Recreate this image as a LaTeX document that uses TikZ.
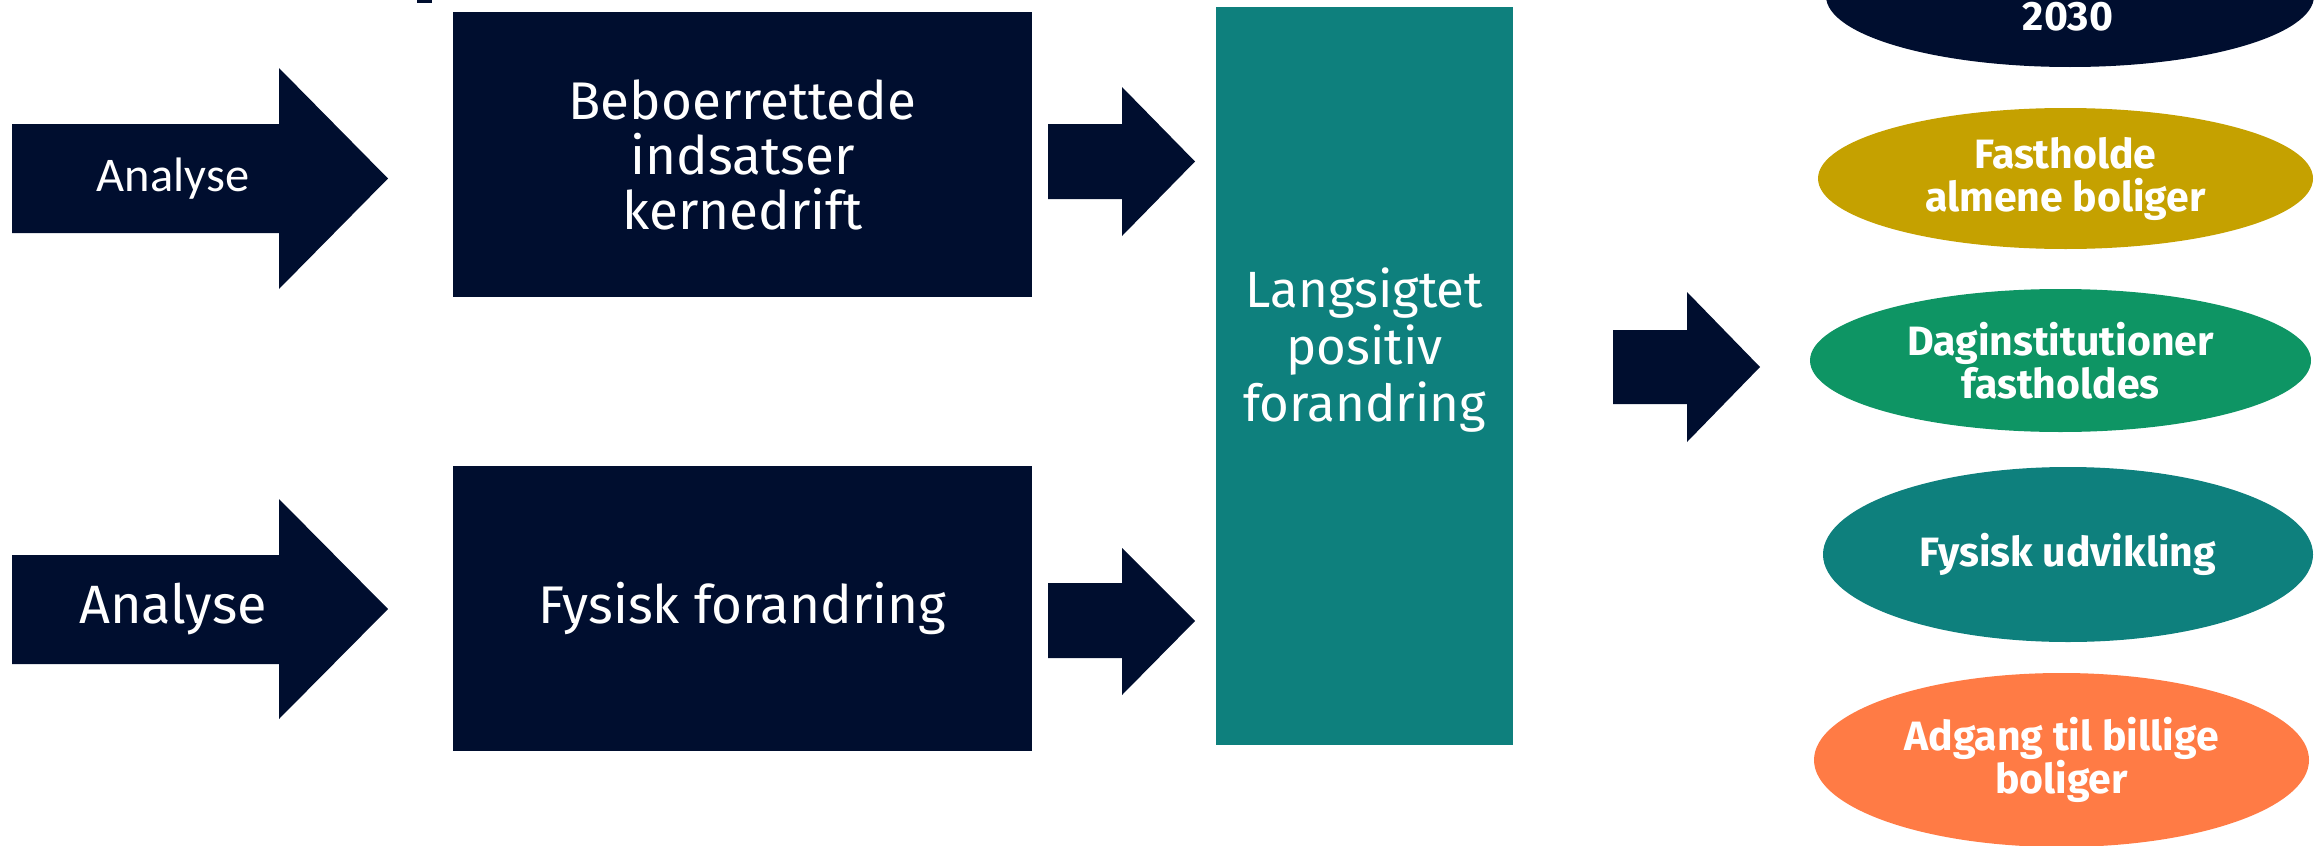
\documentclass[tikz,border=0pt]{standalone}
\usepackage{fontspec}
\setmainfont{Fira Sans}
\newfontfamily\carlito{Carlito}
\usetikzlibrary{shapes.geometric}
\definecolor{navy}{RGB}{0,14,47}
\definecolor{tealc}{RGB}{14,128,125}
\definecolor{goldc}{RGB}{197,161,0}
\definecolor{greenc}{RGB}{14,149,100}
\definecolor{orangec}{RGB}{255,123,69}
\tikzset{
  navybox/.style={fill=navy, inner sep=0pt, text=white, align=center,
    minimum width=289.5pt, minimum height=142.5pt},
  boxtext/.style={text=white, align=center, font=\fontsize{26.5}{27.5}\selectfont},
  blockarrow/.style={fill=navy},
  oval/.style={ellipse, inner sep=0pt, text=white, align=center,
    font=\bfseries\fontsize{20.5}{21.5}\selectfont},
}
\begin{document}
\begin{tikzpicture}[x=0.5pt,y=-0.5pt]
\path[use as bounding box] (0,0) rectangle (2315,846);
\clip (0,0) rectangle (2315,846);

% small mark at the top
\fill[navy] (417,0) rectangle (432,3);

% input block arrows
\path[blockarrow] (12,124) -- (279,124) -- (279,68) -- (388,178.5) -- (279,289) -- (279,233) -- (12,233) -- cycle;
\node[text=white, font=\carlito\fontsize{24.2}{28}\selectfont] (a1) at (173,179) {Analyse};
\path[blockarrow] (12,555) -- (279,555) -- (279,499) -- (388,609) -- (279,719) -- (279,664) -- (12,664) -- cycle;
\node[text=white, font=\fontsize{27}{30}\selectfont] (a2) at (173,609) {Analyse};

% dark boxes
\node[navybox] (b1) at (742.5,154.5) {};
\node[boxtext] (b1t) at (b1) {Beboerrettede\\indsatser\\kernedrift};
\node[navybox] (b2) at (742.5,608.5) {};
\node[boxtext] (b2t) at (b2) {Fysisk forandring};

% small arrows
\path[blockarrow] (1048,124) -- (1122,124) -- (1122,87) -- (1195,161.5) -- (1122,236) -- (1122,199) -- (1048,199) -- cycle;
\path[blockarrow] (1048,583) -- (1122,583) -- (1122,548) -- (1195,621) -- (1122,695) -- (1122,658) -- (1048,658) -- cycle;

% teal box
\node[fill=tealc, inner sep=0pt, minimum width=148.5pt, minimum height=369pt] (t) at (1364.5,376) {};
\node[boxtext, font=\fontsize{25.5}{28.5}\selectfont] (tt) at (1364.5,350) {Langsigtet\\positiv\\forandring};

% right arrow
\path[blockarrow] (1613,330) -- (1687,330) -- (1687,292) -- (1760,367) -- (1687,442) -- (1687,404) -- (1613,404) -- cycle;

% outcome ellipses
\node[oval, fill=navy, minimum width=244pt, minimum height=71pt] (e0) at (2070,-4) {};
\node[text=white, font=\bfseries\fontsize{20.5}{21.5}\selectfont] (e0t) at (2068,17) {2030};
\node[oval, fill=goldc, minimum width=247.5pt, minimum height=70.5pt] (e1) at (2065.5,178.5) {Fastholde\\almene boliger};
\node[oval, fill=greenc, minimum width=250.5pt, minimum height=71.5pt] (e2) at (2060.5,360.5) {Daginstitutioner\\fastholdes};
\node[oval, fill=tealc, minimum width=245pt, minimum height=87.5pt] (e3) at (2068,554.5) {Fysisk udvikling};
\node[oval, fill=orangec, minimum width=247.5pt, minimum height=87pt] (e4) at (2061.5,760) {Adgang til billige\\boliger};
\end{tikzpicture}
\end{document}
